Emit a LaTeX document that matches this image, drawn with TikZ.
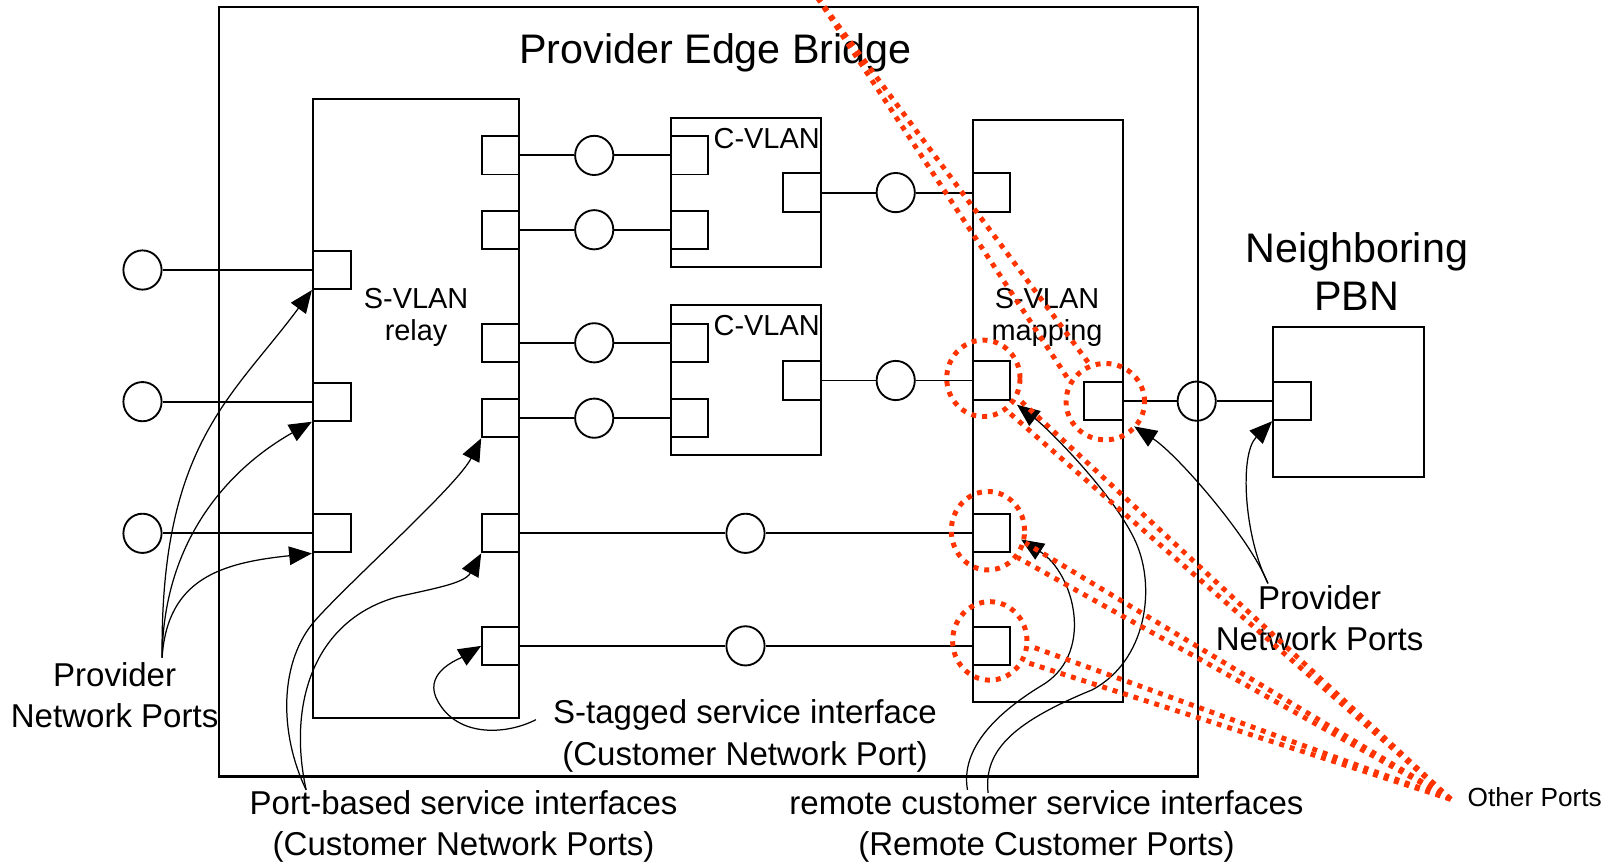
\documentclass[tikz,border=0pt]{standalone}
\usepackage{fontspec}
\setmainfont{Liberation Sans}
\usetikzlibrary{shapes.geometric,arrows.meta,fit,calc}
\definecolor{callred}{RGB}{255,51,0}
\begin{document}
\begin{tikzpicture}[x=0.5pt,y=-0.5pt,
  box/.style={draw,line width=1pt,inner sep=0pt},
  port/.style={draw,line width=0.95pt,inner sep=0pt},
  lan/.style={draw,ellipse,line width=0.9pt,minimum width=18.5pt,minimum height=19pt,inner sep=0pt},
  wire/.style={line width=0.95pt},
  ptr/.style={line width=0.6pt,-{Triangle[length=11pt,width=9pt]}},
  callout/.style={draw=callred,line width=2.4pt,dash pattern=on 2.4pt off 2.9pt},
  ring/.style={callout,ellipse,inner sep=0pt},
  tBig/.style={font=\fontsize{20}{24}\selectfont,inner sep=0pt,anchor=base},
  tMid/.style={font=\fontsize{14}{16}\selectfont,inner sep=0pt,anchor=base},
  tLbl/.style={font=\fontsize{16}{20}\selectfont,inner sep=0pt,anchor=base},
  tSmall/.style={font=\fontsize{12.7}{15}\selectfont,inner sep=0pt,anchor=base west},
]
\path[use as bounding box,fill=white] (0,0) rectangle (1568,837);

% boxes
\node[box,fit={(212,7) (1160,752)}] (peb) {};
\node[box,fit={(303,96) (503,695)}] (relay) {};
\node[box,fit={(650,114) (795,259)}] (cv1) {};
\node[box,fit={(650,295.5) (795,441)}] (cv2) {};
\node[box,fit={(942,116) (1087.5,680)}] (map) {};
\node[box,fit={(1233,317) (1379,462)}] (pbn) {};

% ports
\node[port,fit={(303,243) (340,280)}] (lp1) {};
\node[port,fit={(303,370.5) (340,407.5)}] (lp2) {};
\node[port,fit={(303,498) (340,535)}] (lp3) {};
\node[port,fit={(467,132) (503,169)}] (rpA) {};
\node[port,fit={(467,204) (503,241)}] (rpB) {};
\node[port,fit={(467,313.5) (503,350.5)}] (rpC) {};
\node[port,fit={(467,386.5) (503,423.5)}] (rpD) {};
\node[port,fit={(467,498) (503,535)}] (rpE) {};
\node[port,fit={(467,607) (503,644)}] (rpF) {};
\node[port,fit={(650,132) (686,169)}] (vpA) {};
\node[port,fit={(650,204) (686,241)}] (vpB) {};
\node[port,fit={(758,168) (795,205)}] (vr1) {};
\node[port,fit={(650,313.5) (686,350.5)}] (vpC) {};
\node[port,fit={(650,386.5) (686,423.5)}] (vpD) {};
\node[port,fit={(758,350) (795,387)}] (vr2) {};
\node[port,fit={(942,168) (978,205)}] (m1) {};
\node[port,fit={(942,350) (978,387)}] (m2) {};
\node[port,fit={(942,498) (978,535)}] (m3) {};
\node[port,fit={(942,607) (978,644)}] (m4) {};
\node[port,fit={(1050,370) (1087.5,407)}] (mr) {};
\node[port,fit={(1233,370) (1270,407)}] (pp) {};

% LAN circles
\node[lan] (lc1) at (138,261.5) {};
\node[lan] (lc2) at (138,389) {};
\node[lan] (lc3) at (138,516.5) {};
\node[lan] (cA) at (575.5,150.5) {};
\node[lan] (cB) at (575.5,222.5) {};
\node[lan] (cC) at (575.5,332) {};
\node[lan] (cD) at (575.5,405) {};
\node[lan] (cT) at (867.5,186.5) {};
\node[lan] (cM) at (867.5,368.5) {};
\node[lan] (cE) at (722,516.5) {};
\node[lan] (cF) at (722,625.5) {};
\node[lan] (cN) at (1159,388.5) {};

% wires
\draw[wire] (lc1) -- (lp1);
\draw[wire] (lc2) -- (lp2);
\draw[wire] (lc3) -- (lp3);
\draw[wire] (rpA) -- (cA) -- (vpA);
\draw[wire] (rpB) -- (cB) -- (vpB);
\draw[wire] (rpC) -- (cC) -- (vpC);
\draw[wire] (rpD) -- (cD) -- (vpD);
\draw[wire] (vr1) -- (cT) -- (m1);
\draw[wire] (vr2) -- (cM) -- (m2);
\draw[wire] (rpE) -- (cE) -- (m3);
\draw[wire] (rpF) -- (cF) -- (m4);
\draw[wire] (mr) -- (cN) -- (pp);

% labels
\node[tBig] (title) at (693,61.3) {Provider Edge Bridge};
\node[tBig] (nb1) at (1314,254) {Neighboring};
\node[tBig] (nb2) at (1314,301) {PBN};
\node[tMid] (rl1) at (403,299) {S-VLAN};
\node[tMid] (rl2) at (403,330) {relay};
\node[tMid] (mp1) at (1014,299) {S-VLAN};
\node[tMid] (mp2) at (1014,330) {mapping};
\node[tMid] (cv1l) at (742.5,143.7) {C-VLAN};
\node[tMid] (cv2l) at (742.5,324.5) {C-VLAN};
\node[tLbl] (pnl1) at (111,665) {Provider};
\node[tLbl] (pnl2) at (111,705) {Network Ports};
\node[tLbl] (st1) at (721.5,701) {S-tagged service interface};
\node[tLbl] (st2) at (721.5,741) {(Customer Network Port)};
\node[tLbl] (pb1) at (449,789) {Port-based service interfaces};
\node[tLbl] (pb2) at (449,829) {(Customer Network Ports)};
\node[tLbl] (rc1) at (1013.5,789) {remote customer service interfaces};
\node[tLbl] (rc2) at (1013.5,829) {(Remote Customer Ports)};
\node[tLbl] (pnr1) at (1278,590) {Provider};
\node[tLbl] (pnr2) at (1278,630) {Network Ports};
\node[tSmall] (op) at (1421,781.5) {Other Ports};

% pointer arrows
\coordinate (sPL) at (157,637);
\draw[ptr] (sPL) .. controls (155,430) and (225,385) .. (lp1.south west);
\draw[ptr] (sPL) .. controls (158,520) and (225,452) .. (lp2.south west);
\draw[ptr] (sPL) .. controls (162,560) and (215,545) .. (lp3.south west);

\coordinate (sPB) at (296.5,765);
\draw[ptr] (sPB) .. controls (270,710) and (270,640) .. (306,600) .. controls (342,560) and (443,470) .. (rpD.south west);
\draw[ptr] (sPB) .. controls (278,680) and (305,600) .. (385,578) .. controls (420,570) and (450,565) .. (rpE.south west);

\coordinate (sST) at (519,697);
\draw[ptr] (sST) .. controls (490,712) and (440,715) .. (422,675) .. controls (412,650) and (445,638) .. (rpF.west);

\coordinate (sRC1) at (937,765);
\coordinate (sRC2) at (957,768);
\draw[ptr] (sRC1) .. controls (930,725) and (965,690) .. (1012,662) .. controls (1060,630) and (1040,555) .. ($(m3.east)+(10,6)$);
\draw[ptr] (sRC2) .. controls (952,725) and (985,698) .. (1058,668) .. controls (1110,640) and (1120,570) .. (1100,525) .. controls (1080,480) and (1015,415) .. ($(m2.south east)+(6,4)$);

\coordinate (sPR) at (1228,565);
\draw[ptr] (sPR) .. controls (1210,520) and (1140,440) .. ($(mr.south east)+(10,5)$);
\draw[ptr] (sPR) .. controls (1205,520) and (1200,440) .. (pp.south west);

% red call-outs
\node[ring,minimum width=35.5pt,minimum height=37pt] (e1) at (952.4,366.4) {};
\node[ring,minimum width=35.5pt,minimum height=38pt] (e2) at (956.8,514) {};
\node[ring,minimum width=36pt,minimum height=38pt] (e3) at (958.6,620.7) {};
\node[ring,minimum width=38pt,minimum height=37pt] (e4) at (1070.5,389) {};
\coordinate (oth) at (1405,774);
\coordinate (apx) at (792,-2);
\draw[callout] (oth) -- (e1.-30);
\draw[callout] (oth) -- (e1.-54);
\draw[callout] (oth) -- (e2.-18);
\draw[callout] (oth) -- (e2.-42);
\draw[callout] (oth) -- (e3.-7);
\draw[callout] (oth) -- (e3.-31);
\draw[callout] (apx) -- (e4.150);
\draw[callout] (apx) -- (e4.113);
\end{tikzpicture}
\end{document}
